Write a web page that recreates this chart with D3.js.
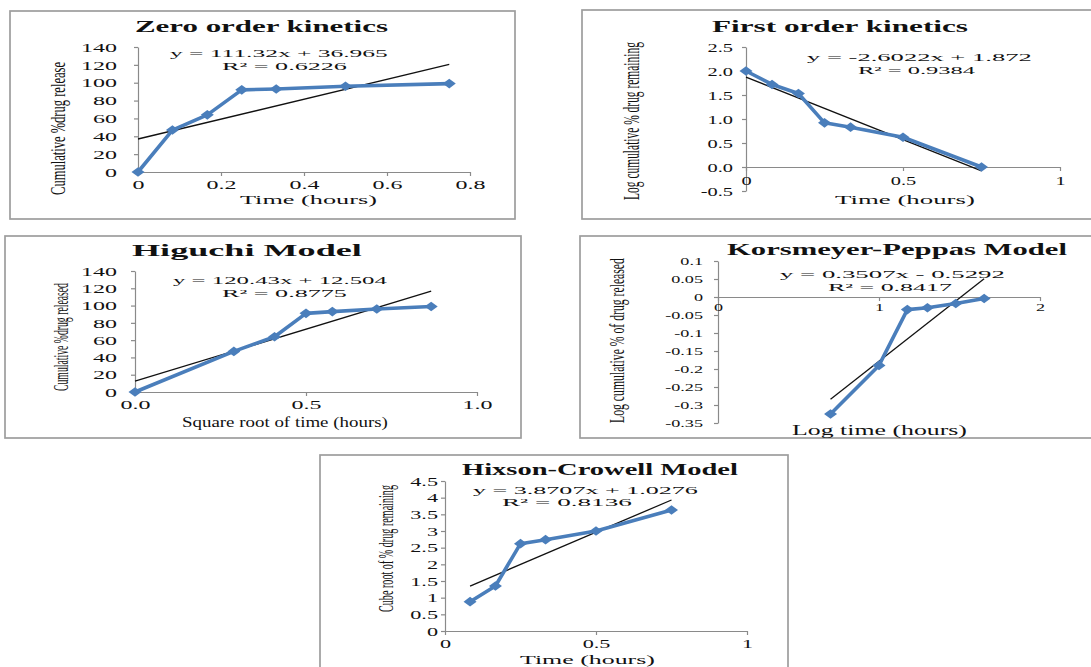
<!DOCTYPE html>
<html>
<head>
<meta charset="utf-8">
<script src="https://cdn.jsdelivr.net/npm/d3@7"></script>
<style>
  html, body { margin: 0; padding: 0; background: #ffffff; }
  svg { display: block; }
  text { font-family: "Liberation Serif", "Times New Roman", serif; fill: #111111; }
</style>
</head>
<body>
<svg id="chart" width="1091" height="667"></svg>
<script>
// ---- Release data -------------------------------------------------------
// Sampling times (hours) and cumulative % drug released
const timeHours = [0, 0.083, 0.167, 0.25, 0.333, 0.5, 0.75];
const cumulativeReleased = [0, 47, 64, 92, 93, 96, 99];
// First order: log of % drug remaining
const logRemaining = [2.0, 1.72, 1.53, 0.92, 0.83, 0.62, 0.0];
// Higuchi: square root of time vs % released
const sqrtTime = [0, 0.289, 0.408, 0.5, 0.577, 0.707, 0.866];
const higuchiReleased = [0, 47, 64, 91, 93, 96, 99];
// Korsmeyer-Peppas: log time vs log fraction released
const logTime = [0.699, 1.0, 1.176, 1.301, 1.477, 1.653];
const logReleased = [-0.325, -0.19, -0.035, -0.03, -0.018, -0.004];
// Hixson-Crowell: cube-root term vs time
const hixsonTime = [0.083, 0.167, 0.25, 0.333, 0.5, 0.75];
const cubeRootValues = [0.88, 1.35, 2.62, 2.74, 3.0, 3.63];

// Linear trendlines: [slope, intercept, R²]
const zeroFit = [111.32, 36.965, 0.6226];
const firstFit = [-2.6022, 1.872, 0.9384];
const higuchiFit = [120.43, 12.504, 0.8775];
const peppasFit = [0.3507, -0.5292, 0.8417];
const hixsonFit = [3.8707, 1.0276, 0.8136];

// Axis tick values
const zeroXTicks = [0, 0.2, 0.4, 0.6, 0.8];
const zeroYTicks = [0, 20, 40, 60, 80, 100, 120, 140];
const firstXTicks = [0, 0.5, 1];
const firstYTicks = [-0.5, 0, 0.5, 1.0, 1.5, 2.0, 2.5];
const higuchiXTicks = [0, 0.5, 1.0];
const higuchiYTicks = [0, 20, 40, 60, 80, 100, 120, 140];
const peppasXTicks = [0, 1, 2];
const peppasYTicks = [0.1, 0.05, 0, -0.05, -0.1, -0.15, -0.2, -0.25, -0.3, -0.35];
const hixsonXTicks = [0, 0.5, 1];
const hixsonYTicks = [0, 0.5, 1, 1.5, 2, 2.5, 3, 3.5, 4, 4.5];

// ---- Panels -------------------------------------------------------------
const panels = [
  {
    title: "Zero order kinetics", xTitle: "Time (hours)", yTitle: "Cumulative %drug release",
    xs: timeHours, ys: cumulativeReleased, fit: zeroFit,
    xTicks: zeroXTicks, yTicks: zeroYTicks,
    xFmt: d => String(d), yFmt: d => String(d),
    xDomain: [0, 0.8], yDomain: [0, 140],
    layout: {
      box: [10, 11, 515, 219], xRange: [138, 470], yRange: [172, 47],
      title: [135, 253, 32], eq: [170, 218, 57], r2: [222, 125, 69.5],
      xt: [240, 137, 204, 13], yt: [58, 195, 62, 22],
      yLabRight: 117, xLabY: 189, tickFs: 12, tickSx: 2.0
    }
  },
  {
    title: "First order kinetics", xTitle: "Time (hours)", yTitle: "Log cumulative % drug remaining",
    xs: timeHours, ys: logRemaining, fit: firstFit,
    xTicks: firstXTicks, yTicks: firstYTicks,
    xFmt: d => String(d), yFmt: d => d.toFixed(1),
    xDomain: [0, 1], yDomain: [-0.5, 2.5], xAxisAt: 0,
    layout: {
      box: [582, 10, 1100, 219], xRange: [746, 1060], yRange: [191, 47],
      title: [712, 256, 32], eq: [807, 225, 61], r2: [858, 117, 73.5],
      xt: [835, 140, 204, 13], yt: [631, 200, 42, 23],
      yLabRight: 733, xLabY: 185, tickFs: 12, tickSx: 1.7
    }
  },
  {
    title: "Higuchi Model", xTitle: "Square root of time (hours)", yTitle: "Cumulative %drug released",
    xs: sqrtTime, ys: higuchiReleased, fit: higuchiFit,
    xTicks: higuchiXTicks, yTicks: higuchiYTicks,
    xFmt: d => d.toFixed(1), yFmt: d => String(d),
    xDomain: [0, 1], yDomain: [0, 140],
    layout: {
      box: [5, 236, 521, 438], xRange: [135, 477], yRange: [392, 271],
      title: [132, 230, 256], eq: [173, 214, 284], r2: [222, 125, 296.5],
      xt: [182, 206, 427, 14.5], yt: [61, 391, 283, 21],
      yLabRight: 117, xLabY: 409, tickFs: 12, tickSx: 2.0
    }
  },
  {
    title: "Korsmeyer-Peppas Model", xTitle: "Log time (hours)", yTitle: "Log  cumulative  % of drug released",
    xs: logTime, ys: logReleased, fit: peppasFit,
    xTicks: peppasXTicks, yTicks: peppasYTicks,
    xFmt: d => String(d), yFmt: d => String(d),
    xDomain: [0, 2], yDomain: [-0.35, 0.1], xAxisAt: 0,
    layout: {
      box: [580, 236, 1100, 438], xRange: [718, 1040], yRange: [423, 261],
      title: [727, 340, 255], eq: [780, 225, 278], r2: [828, 124, 290.5],
      xt: [792, 175, 435, 14], yt: [617, 423, 258, 22],
      yLabRight: 703, xLabY: 311, tickFs: 11, tickSx: 1.65
    }
  },
  {
    title: "Hixson-Crowell Model", xTitle: "Time (hours)", yTitle: "Cube root of % drug  remaining",
    xs: hixsonTime, ys: cubeRootValues, fit: hixsonFit,
    xTicks: hixsonXTicks, yTicks: hixsonYTicks,
    xFmt: d => String(d), yFmt: d => String(d),
    xDomain: [0, 1], yDomain: [0, 4.5],
    layout: {
      box: [320, 455, 788, 680], xRange: [445, 747], yRange: [631, 481],
      title: [462, 276, 475], eq: [473, 225, 493.5], r2: [502, 130, 506],
      xt: [520, 135, 664, 13], yt: [386, 612, 485, 20],
      yLabRight: 438, xLabY: 648, tickFs: 12, tickSx: 1.85
    }
  }
];

const svg = d3.select("#chart");
const AXIS_COLOR = "#8a8a8a";
const SERIES_COLOR = "#4a7ebb";

// Text helper: places a string and stretches it to a set width
function addText(g, str, o) {
  const t = g.append("text").text(str)
    .attr("font-size", o.fs)
    .attr("text-anchor", o.anchor || "start");
  if (o.bold) t.attr("font-weight", "bold");
  if (o.baseline) t.attr("dominant-baseline", o.baseline);
  const natural = t.node().getComputedTextLength();
  const s = o.width ? o.width / natural : (o.sx || 1);
  const rot = o.rotate ? " rotate(-90)" : "";
  t.attr("transform", `translate(${o.x},${o.y})${rot} scale(${s},1)`);
  return t;
}

function equationText(fit) {
  const [m, b] = fit;
  const sign = b < 0 ? "-" : "+";
  return `y = ${m}x ${sign} ${Math.abs(b)}`;
}

function drawPanel(p) {
  const L = p.layout;
  const g = svg.append("g");

  g.append("rect")
    .attr("x", L.box[0]).attr("y", L.box[1])
    .attr("width", L.box[2] - L.box[0]).attr("height", L.box[3] - L.box[1])
    .attr("fill", "#ffffff").attr("stroke", "#9d9d9d").attr("stroke-width", 1.7);

  const x = d3.scaleLinear().domain(p.xDomain).range(L.xRange);
  const y = d3.scaleLinear().domain(p.yDomain).range(L.yRange);
  const xAxisY = p.xAxisAt !== undefined ? y(p.xAxisAt) : L.yRange[0];

  // Y axis
  const gy = g.append("g").attr("transform", `translate(${L.xRange[0]},0)`)
    .call(d3.axisLeft(y).tickValues(p.yTicks).tickFormat(p.yFmt).tickSize(4).tickSizeOuter(0));
  gy.selectAll(".domain, .tick line").attr("stroke", AXIS_COLOR).attr("stroke-width", 1.2);
  gy.selectAll(".tick text")
    .attr("fill", "#111111")
    .attr("font-size", L.tickFs)
    .attr("x", -(L.xRange[0] - L.yLabRight) / L.tickSx)
    .attr("dy", "0.35em")
    .attr("transform", `scale(${L.tickSx},1)`);
  gy.attr("font-family", null).attr("font-size", null);

  // X axis
  const gx = g.append("g").attr("transform", `translate(0,${xAxisY})`)
    .call(d3.axisBottom(x).tickValues(p.xTicks).tickFormat(p.xFmt).tickSize(4).tickSizeOuter(0));
  gx.selectAll(".domain, .tick line").attr("stroke", AXIS_COLOR).attr("stroke-width", 1.2);
  gx.selectAll(".tick text")
    .attr("fill", "#111111")
    .attr("font-size", L.tickFs)
    .attr("y", L.xLabY - xAxisY).attr("dy", 0)
    .attr("transform", `scale(${L.tickSx},1)`);
  gx.attr("font-family", null).attr("font-size", null);

  // Linear trendline over the data range
  const [m, b] = p.fit;
  const xExt = d3.extent(p.xs);
  g.append("path")
    .attr("d", d3.line().x(d => x(d)).y(d => y(m * d + b))(xExt))
    .attr("fill", "none").attr("stroke", "#111").attr("stroke-width", 1.3);

  // Data series
  const pts = p.xs.map((v, i) => [v, p.ys[i]]);
  g.append("path")
    .attr("d", d3.line().x(d => x(d[0])).y(d => y(d[1]))(pts))
    .attr("fill", "none").attr("stroke", SERIES_COLOR)
    .attr("stroke-width", 3.6).attr("stroke-linejoin", "round");
  g.selectAll("path.marker").data(pts).join("path")
    .attr("class", "marker")
    .attr("d", "M0,-4.8L6.5,0L0,4.8L-6.5,0Z")
    .attr("transform", d => `translate(${x(d[0])},${y(d[1])})`)
    .attr("fill", SERIES_COLOR);

  // Titles and fit labels
  addText(g, p.title, { x: L.title[0], width: L.title[1], y: L.title[2], fs: 17, bold: true });
  addText(g, equationText(p.fit), { x: L.eq[0], width: L.eq[1], y: L.eq[2], fs: 11 });
  addText(g, `R² = ${p.fit[2]}`, { x: L.r2[0], width: L.r2[1], y: L.r2[2], fs: 11 });
  addText(g, p.xTitle, { x: L.xt[0], width: L.xt[1], y: L.xt[2], fs: L.xt[3] });
  addText(g, p.yTitle, {
    x: L.yt[0], y: (L.yt[1] + L.yt[2]) / 2, width: L.yt[1] - L.yt[2],
    fs: L.yt[3], anchor: "middle", baseline: "central", rotate: true
  });
}

panels.forEach(drawPanel);
</script>
</body>
</html>
